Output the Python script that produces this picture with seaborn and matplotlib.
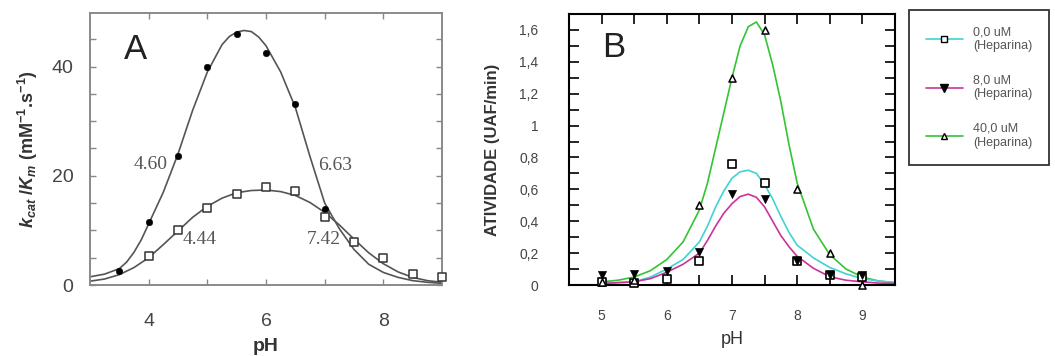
import numpy as np
import pandas as pd
import seaborn as sns
import matplotlib.pyplot as plt
from matplotlib.lines import Line2D
from matplotlib.ticker import FixedLocator, MultipleLocator, FuncFormatter

# ---- panel A: kcat/Km vs pH ----
ph_a_circ = [3.5, 4.0, 4.5, 5.0, 5.5, 6.0, 6.5, 7.0]
kcat_circ = [2.6, 11.6, 23.7, 40.0, 45.9, 42.5, 33.2, 13.9]
ph_a_sq = [4.0, 4.5, 5.0, 5.5, 6.0, 6.5, 7.0, 7.5, 8.0, 8.5, 9.0]
kcat_sq = [5.4, 10.1, 14.1, 16.6, 17.9, 17.2, 12.5, 7.8, 4.9, 2.1, 1.5]

# fitted curves
ph_a_fit_c = [3.0, 3.25, 3.5, 3.625, 3.75, 3.875, 4.0, 4.25, 4.5, 4.75, 5.0, 5.25, 5.375,
              5.5, 5.625, 5.75, 5.875, 6.0, 6.25, 6.5, 6.75, 7.0, 7.25, 7.5, 7.75, 8.0,
              8.25, 8.5, 8.75, 9.0]
fit_circ = [1.5, 2.0, 3.0, 4.2, 6.0, 8.3, 11.2, 17.0, 24.0, 32.0, 39.0, 44.0, 45.5,
            46.3, 46.6, 46.4, 45.4, 43.8, 39.0, 32.5, 23.5, 15.0, 10.3, 6.5, 3.8, 2.3,
            1.4, 0.8, 0.5, 0.3]
ph_a_fit_s = [3.0, 3.25, 3.5, 3.75, 4.0, 4.25, 4.5, 4.75, 5.0, 5.25, 5.5, 5.75, 6.0,
              6.25, 6.5, 6.75, 7.0, 7.25, 7.5, 7.75, 8.0, 8.25, 8.5, 8.75, 9.0]
fit_sq = [0.7, 1.1, 1.9, 3.2, 5.0, 7.4, 9.9, 12.4, 14.4, 15.9, 16.9, 17.3, 17.4,
          17.1, 16.4, 15.1, 13.3, 11.0, 8.4, 5.9, 3.9, 2.4, 1.4, 0.8, 0.5]

pka_labels = ["4.60", "6.63", "4.44", "7.42"]
pka_pos = [(4.03, 22.0), (7.18, 21.9), (4.87, 8.4), (6.98, 8.4)]

# ---- panel B: activity vs pH at three heparin concentrations ----
ph_b = [5.0, 5.5, 6.0, 6.5, 7.0, 7.5, 8.0, 8.5, 9.0]
act_0 = [0.02, 0.01, 0.04, 0.15, 0.76, 0.64, 0.15, 0.06, 0.05]
act_8 = [0.06, 0.07, 0.09, 0.21, 0.57, 0.54, 0.15, 0.06, 0.06]
ph_b_tri = [5.0, 5.5, 6.5, 7.0, 7.5, 8.0, 8.5, 9.0]
act_40 = [0.02, 0.03, 0.50, 1.30, 1.60, 0.60, 0.20, 0.0]

ph_b_fit = [5.0, 5.25, 5.5, 5.75, 6.0, 6.25, 6.5, 6.625, 6.75, 6.875, 7.0, 7.125, 7.25,
            7.375, 7.5, 7.625, 7.75, 7.875, 8.0, 8.25, 8.5, 8.75, 9.0, 9.25, 9.5]
fit_40 = [0.02, 0.03, 0.05, 0.09, 0.16, 0.27, 0.47, 0.64, 0.86, 1.08, 1.30, 1.50, 1.62,
          1.65, 1.57, 1.38, 1.15, 0.88, 0.64, 0.35, 0.19, 0.10, 0.05, 0.025, 0.015]
fit_0 = [0.01, 0.015, 0.02, 0.05, 0.10, 0.16, 0.27, 0.37, 0.49, 0.59, 0.67, 0.71, 0.72,
         0.70, 0.63, 0.54, 0.43, 0.33, 0.25, 0.17, 0.11, 0.07, 0.04, 0.025, 0.015]
fit_8 = [0.01, 0.015, 0.02, 0.04, 0.08, 0.13, 0.20, 0.28, 0.37, 0.45, 0.51, 0.555, 0.57,
         0.55, 0.49, 0.40, 0.31, 0.24, 0.18, 0.105, 0.052, 0.03, 0.02, 0.012, 0.01]

legend_labels = ["0,0 uM\n(Heparina)", "8,0 uM\n(Heparina)", "40,0 uM\n(Heparina)"]
c_0, c_8, c_40 = "#3fd3d3", "#cc3399", "#33c433"

sns.set_style("ticks")
plt.rcParams["font.family"] = ["Liberation Sans", "DejaVu Sans"]
plt.rcParams["mathtext.fontset"] = "custom"
plt.rcParams["mathtext.rm"] = "Liberation Sans:bold"
plt.rcParams["mathtext.it"] = "Liberation Sans:bold:italic"
plt.rcParams["mathtext.bf"] = "Liberation Sans:bold"

fig = plt.figure(figsize=(10.55, 3.56), dpi=100)
ax_a = fig.add_axes([0.0853, 0.1994, 0.3337, 0.7641])
ax_b = fig.add_axes([0.5393, 0.1994, 0.3090, 0.7613])

# ---------- A ----------
grey = "#555555"
sns.lineplot(x=ph_a_fit_c, y=fit_circ, ax=ax_a, color=grey, lw=1.2, estimator=None, sort=False)
sns.lineplot(x=ph_a_fit_s, y=fit_sq, ax=ax_a, color=grey, lw=1.2, estimator=None, sort=False)
sns.scatterplot(x=ph_a_circ, y=kcat_circ, ax=ax_a, marker="o", color="black",
                edgecolor="black", s=22, zorder=3)
sns.scatterplot(x=ph_a_sq, y=kcat_sq, ax=ax_a, marker="s", color="white",
                edgecolor="#333333", linewidth=1.1, s=26, zorder=3, clip_on=False)

ax_a.set_xlim(3, 9)
ax_a.set_ylim(0, 49.8)
ax_a.xaxis.set_major_locator(FixedLocator([4, 6, 8]))
ax_a.xaxis.set_minor_locator(FixedLocator([5, 7]))
ax_a.yaxis.set_major_locator(FixedLocator([0, 20, 40]))
ax_a.yaxis.set_minor_locator(MultipleLocator(5))
ax_a.tick_params(which="both", direction="in", top=True, right=True, length=4,
                 width=1.0, color="#888888", labelcolor="#444444", labelsize=14)
ax_a.tick_params(axis="x", pad=20)
ax_a.tick_params(axis="y", pad=12)
for sp in ax_a.spines.values():
    sp.set_color("#8a8a8a")
    sp.set_linewidth(1.4)

ax_a.set_xlabel("pH", fontsize=14, fontweight="bold", color="#333333", labelpad=6)
ax_a.set_ylabel(r"$k_{cat}$ /$K_m$ (mM$^{-1}$.s$^{-1}$)", fontsize=13,
                fontweight="bold", color="#333333", labelpad=8)
ax_a.text(3.77, 43.1, "A", fontsize=25, ha="center", va="center", color="#222222")
for lab, (px, py) in zip(pka_labels, pka_pos):
    ax_a.text(px, py, lab, fontsize=14, ha="center", va="center", color="#555555",
              family=["Liberation Serif", "DejaVu Serif"])

# ---------- B ----------
sns.lineplot(x=ph_b_fit, y=fit_40, ax=ax_b, color=c_40, lw=1.2, estimator=None, sort=False)
sns.lineplot(x=ph_b_fit, y=fit_0, ax=ax_b, color=c_0, lw=1.2, estimator=None, sort=False)
sns.lineplot(x=ph_b_fit, y=fit_8, ax=ax_b, color=c_8, lw=1.2, estimator=None, sort=False)
sns.scatterplot(x=ph_b, y=act_0, ax=ax_b, marker="s", color="white", edgecolor="black",
                linewidth=1.2, s=36, zorder=3, clip_on=False)
sns.scatterplot(x=ph_b, y=act_8, ax=ax_b, marker="v", color="black", edgecolor="black",
                s=34, zorder=4, clip_on=False)
sns.scatterplot(x=ph_b_tri, y=act_40, ax=ax_b, marker="^", color="white", edgecolor="black",
                linewidth=1.1, s=26, zorder=4, clip_on=False)

ax_b.set_xlim(4.5, 9.5)
ax_b.set_ylim(0, 1.7)
ax_b.xaxis.set_major_locator(FixedLocator([5, 6, 7, 8, 9]))
ax_b.xaxis.set_minor_locator(FixedLocator([5.5, 6.5, 7.5, 8.5]))
ax_b.yaxis.set_major_locator(FixedLocator([0, 0.2, 0.4, 0.6, 0.8, 1.0, 1.2, 1.4, 1.6]))
ax_b.yaxis.set_minor_locator(MultipleLocator(0.1))
ax_b.yaxis.set_major_formatter(FuncFormatter(lambda v, p: f"{v:g}".replace(".", ",")))
ax_b.tick_params(which="both", direction="in", top=True, right=True, length=7,
                 width=1.2, color="black", labelcolor="#444444", labelsize=10)
ax_b.tick_params(axis="x", pad=17)
ax_b.tick_params(axis="y", pad=22)
for sp in ax_b.spines.values():
    sp.set_color("black")
    sp.set_linewidth(1.5)

ax_b.set_xlabel("pH", fontsize=13, color="#333333", labelpad=6)
ax_b.set_ylabel("ATIVIDADE (UAF/min)", fontsize=12, fontweight="bold",
                color="#333333", labelpad=14)
ax_b.text(5.18, 1.49, "B", fontsize=25, ha="center", va="center", color="#222222")

handles = [
    Line2D([], [], color=c_0, lw=1.2, marker="s", mfc="white", mec="black", ms=5),
    Line2D([], [], color=c_8, lw=1.2, marker="v", mfc="black", mec="black", ms=6),
    Line2D([], [], color=c_40, lw=1.2, marker="^", mfc="white", mec="black", ms=5),
]
leg = fig.legend(handles, legend_labels, loc="upper left", bbox_to_anchor=(0.862, 0.972),
                 fontsize=9, frameon=True, fancybox=False, edgecolor="black",
                 borderpad=1.3, labelspacing=1.8, handlelength=3.0, handletextpad=0.8,
                 borderaxespad=0)
leg.get_frame().set_linewidth(1.3)
for t in leg.get_texts():
    t.set_color("#555555")

fig.savefig("out.png", dpi=100)
